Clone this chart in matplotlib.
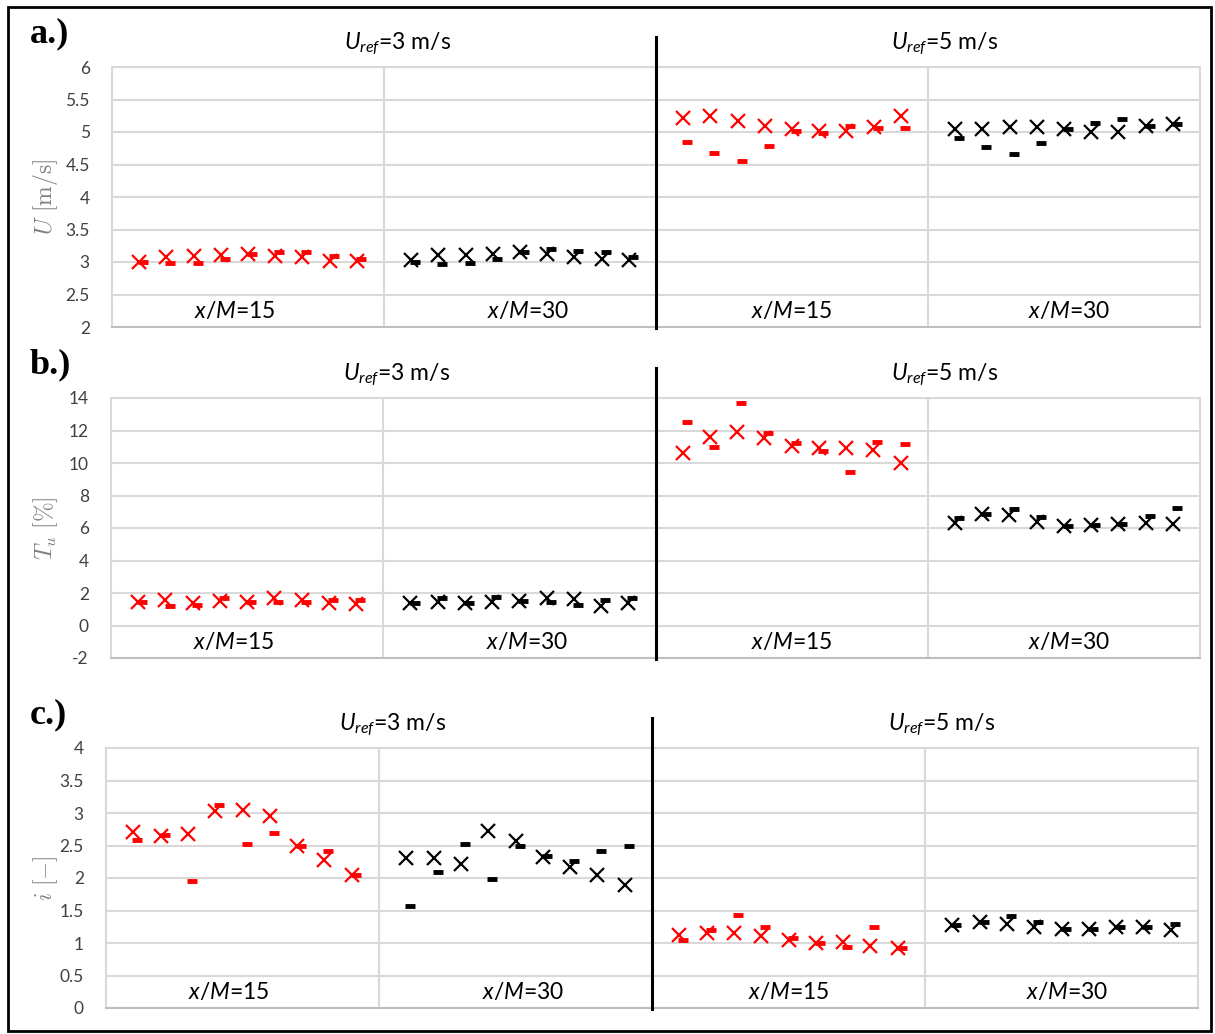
import matplotlib.pyplot as plt
from matplotlib.patches import Rectangle
import numpy as np

plt.rcParams['font.family'] = ['Lato', 'DejaVu Sans']
plt.rcParams['mathtext.fontset'] = 'custom'
plt.rcParams['mathtext.rm'] = 'Lato'
plt.rcParams['mathtext.it'] = 'Lato:italic'

# positions 1..9 inside each of the four groups (group width 10)
pos = np.arange(1, 10)
groups = ["x/M=15", "x/M=30", "x/M=15", "x/M=30"]
group_colors = ['#ff0000', '#000000', '#ff0000', '#000000']
label_x = [4.5, 15.3, 25.0, 35.2]

# panel a: U [m/s]  (cross = first series, dash = second series)
u_cross = [
    [3.00, 3.07, 3.10, 3.11, 3.12, 3.10, 3.07, 3.02, 3.02],
    [3.03, 3.11, 3.11, 3.13, 3.15, 3.12, 3.08, 3.05, 3.03],
    [5.21, 5.25, 5.17, 5.09, 5.04, 5.02, 5.01, 5.08, 5.25],
    [5.04, 5.04, 5.08, 5.07, 5.04, 5.00, 5.00, 5.09, 5.13],
]
u_dash = [
    [3.00, 2.98, 2.98, 3.05, 3.12, 3.16, 3.15, 3.09, 3.05],
    [3.00, 2.97, 2.98, 3.05, 3.16, 3.20, 3.17, 3.15, 3.08],
    [4.85, 4.67, 4.55, 4.78, 5.01, 4.98, 5.09, 5.06, 5.06],
    [4.91, 4.77, 4.66, 4.83, 5.04, 5.14, 5.20, 5.09, 5.13],
]

# panel b: Tu [%]
tu_cross = [
    [1.47, 1.57, 1.40, 1.53, 1.43, 1.67, 1.57, 1.36, 1.32],
    [1.40, 1.47, 1.40, 1.47, 1.53, 1.67, 1.63, 1.22, 1.40],
    [10.63, 11.58, 11.93, 11.52, 11.07, 10.94, 10.90, 10.80, 9.98],
    [6.33, 6.86, 6.80, 6.39, 6.14, 6.18, 6.25, 6.33, 6.25],
]
tu_dash = [
    [1.47, 1.22, 1.26, 1.71, 1.47, 1.43, 1.43, 1.57, 1.57],
    [1.40, 1.67, 1.40, 1.73, 1.53, 1.47, 1.26, 1.57, 1.67],
    [12.50, 11.00, 13.71, 11.82, 11.21, 10.74, 9.43, 11.31, 11.17],
    [6.60, 6.86, 7.15, 6.70, 6.14, 6.18, 6.25, 6.75, 7.21],
]

# panel c: i [-]
i_cross = [
    [2.71, 2.65, 2.67, 3.03, 3.04, 2.96, 2.49, 2.27, 2.04],
    [2.31, 2.31, 2.21, 2.73, 2.57, 2.32, 2.17, 2.05, 1.90],
    [1.12, 1.15, 1.15, 1.11, 1.04, 1.00, 1.01, 0.96, 0.92],
    [1.27, 1.33, 1.29, 1.25, 1.22, 1.22, 1.24, 1.24, 1.20],
]
i_dash = [
    [2.58, 2.66, 1.95, 3.13, 2.53, 2.69, 2.49, 2.42, 2.04],
    [1.57, 2.10, 2.52, 1.98, 2.50, 2.34, 2.26, 2.42, 2.49],
    [1.04, 1.20, 1.43, 1.24, 1.07, 1.00, 0.94, 1.24, 0.92],
    [1.27, 1.33, 1.42, 1.32, 1.22, 1.22, 1.24, 1.24, 1.29],
]

panels = [
    dict(tag='a.)', cross=u_cross, dash=u_dash, ylim=(2, 6), step=0.5,
         ylabel=r'$U\ [\mathrm{m/s}]$', box=(112, 67, 1200, 327)),
    dict(tag='b.)', cross=tu_cross, dash=tu_dash, ylim=(-2, 14), step=2,
         ylabel=r'$T_u\ [\%]$', box=(111, 398, 1200, 658)),
    dict(tag='c.)', cross=i_cross, dash=i_dash, ylim=(0, 4), step=0.5,
         ylabel=r'$i\ [\mathrm{-}]$', box=(106, 748, 1198, 1008)),
]

W, H = 1215, 1034
fig = plt.figure(figsize=(W / 100, H / 100), dpi=100)
grid_col = '#d9d9d9'

for p in panels:
    x0, y0, x1, y1 = p['box']
    ax = fig.add_axes([x0 / W, 1 - y1 / H, (x1 - x0) / W, (y1 - y0) / H])
    ax.set_xlim(0, 40)
    ax.set_ylim(*p['ylim'])
    ticks = np.arange(p['ylim'][0], p['ylim'][1] + p['step'] / 2, p['step'])
    ax.set_yticks(ticks)
    ax.set_yticklabels([f'{t:g}' for t in ticks], fontsize=12.5, color='#404040')
    ax.set_xticks([])
    ax.tick_params(axis='y', length=0, pad=16)
    ax.grid(axis='y', color=grid_col, lw=1.5)
    ax.set_axisbelow(True)
    for s in ax.spines.values():
        s.set_color(grid_col)
        s.set_linewidth(1.5)
    ax.spines['bottom'].set_color('#bfbfbf')
    for xv in [10, 30]:
        ax.axvline(xv, color=grid_col, lw=1.5, zorder=0)
    ax.plot([20, 20], [-0.005, 1 + 30 / 260], color='black', lw=2.2,
            transform=ax.get_xaxis_transform(), clip_on=False, zorder=5)

    for g in range(4):
        xs = pos + 10 * g
        c = group_colors[g]
        ax.plot(xs, p['cross'][g], ls='none', marker='x', ms=10, mew=1.6,
                color=c, zorder=3)
        ax.plot(xs + 0.15, p['dash'][g], ls='none', marker='_', ms=7.5, mew=3.5,
                color=c, zorder=4)
        ax.text(label_x[g], 0.06, r'$x$/$M$=' + groups[g].split('=')[1],
                transform=ax.get_xaxis_transform(), ha='center', va='center',
                fontsize=16.5)

    ax.text(10.5, 1.09, r'$U_{ref}$=3 m/s', transform=ax.get_xaxis_transform(),
            ha='center', va='center', fontsize=16.5)
    ax.text(30.6, 1.09, r'$U_{ref}$=5 m/s', transform=ax.get_xaxis_transform(),
            ha='center', va='center', fontsize=16.5)

    ax.set_ylabel(p['ylabel'], fontsize=17, color='#808080', math_fontfamily='cm')
    ax.yaxis.set_label_coords(-(x0 - 60) / (x1 - x0), 0.5)

    fig.text(30 / W, 1 - (y0 - 33) / H, p['tag'], fontsize=26, fontweight='bold',
             family='Liberation Serif', ha='left', va='center')

fig.add_artist(Rectangle((8 / W, 1 - 1031 / H), 1203 / W, 1024 / H,
                         transform=fig.transFigure, fill=False, ec='black', lw=2))

plt.savefig('out.png', dpi=100)
